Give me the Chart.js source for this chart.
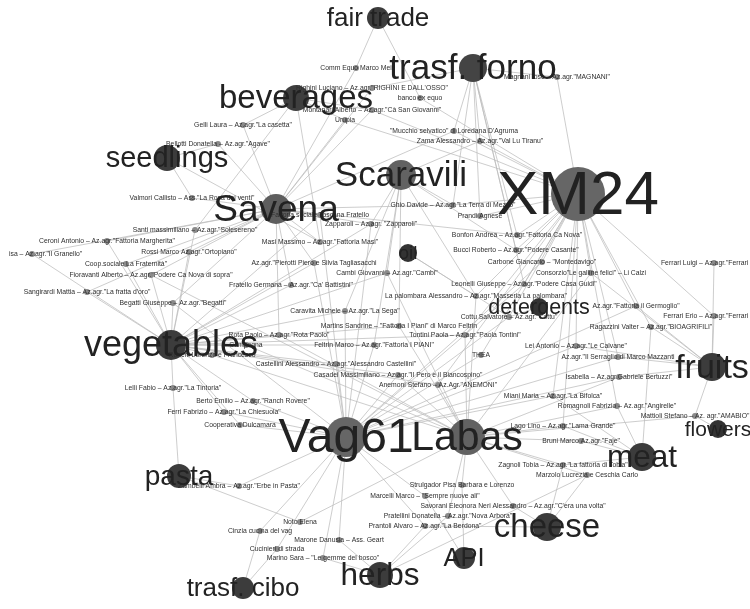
<!DOCTYPE html>
<html>
<head>
<meta charset="utf-8">
<script src="https://cdn.jsdelivr.net/npm/chart.js@4/dist/chart.umd.js"></script>
<style>
  html, body { margin: 0; padding: 0; background: #fff; overflow: hidden; }
  #chart { display: block; filter: blur(0.5px); }
</style>
</head>
<body>
<canvas id="chart" width="750" height="609"></canvas>
<script>
// hubs: shops and product groups
const hubCodes = ['X','V','L','S','C','veg','fru','che','mea','her','api','pas','cib','frn','bev','see','fai','oil','det','flo']
const hubNames = ['XM24','Vag61','Labas','Savena','Scaravili','vegetables','fruits','cheese','meat','herbs','API','pasta','trasf. cibo','trasf. forno','beverages','seedlings','fair trade','oil','detergents','flowers']
const hubX = [578,346,467,276,401,171,712,547,642,380,464,179,243,473,296,167,378,408,539,718]
const hubY = [194,437,437,209,175,345,367,527,457,575,558,476,588,68,98,158,18,253,307,429]
const hubRadius = [27,20,18,15,15,15,14,14,14,13,11,12,11,14,13,13,11,9,9,9]
const hubLabelSize = [62,48,41,37,35,36,34,33,31.5,31.5,25.5,28,26,35,33,29,26,19,21.5,21]
const hubColors = ['#666','#666','#626262','#5e5e5e','#626262','#3c3c3c','#3c3c3c','#3c3c3c','#3c3c3c','#3c3c3c','#3c3c3c','#3c3c3c','#3c3c3c','#444','#3e3e3e','#3c3c3c','#3c3c3c','#333','#333','#333']

// producers
const producerNames = [
  'Comm Equo Marco Mei','Righini Luciano – Az.agr."RIGHINI E DALL\'OSSO"','banco ex equo','Montanari Alberto – Az.agr."Cà San Giovanni"','Urupia',
  'Gelli Laura – Az.agr."La casetta"','Bellotti Donatella – Az.agr."Agave"','Valmori Callisto – Ass."La Rosa dei venti"','Zama Alessandro – Az.agr."Val Lu Tiranu"','"Mucchio selvatico" di Loredana D\'Agruma',
  'Magnani Iosè – Az.agr."MAGNANI"','Ghio Davide – Az.agr."La Terra di Mezzo"','Prandi Agnese','Bonfon Andrea – Az.agr."Fattoria Ca Nova"','Bucci Roberto – Az.agr."Podere Casante"',
  'Carbone Giancarlo – "Montedavigo"','Consorzio"Le galline felici" – Li Calzi','Leonelli Giuseppe – Az.agr."Podere Casa Guidi"','La palombara Alessandro – Az.agr."Masseria La palombara"','Az.agr."Fattoria il Germoglio"',
  'Cottu Salvatore – Az.agr."Cottu"','Ragazzini Valter – Az.agr."BIOAGRIFILI"','Ferrari Luigi – Az.agr."Ferrari Luigi"','Ferrari Erio – Az.agr."Ferrari Erio"','Lei Antonio – Az.agr."Le Calvane"',
  'Az.agr."Il Serraglio di Marco Mazzanti','Isabella – Az.agr.Gabriele Bertuzzi"','Miani Maria – Az.agr."La Bifolca"','Romagnoli Fabrizio – Az.agr."Angirelle"','Mattioli Stefano – Az. agr."AMABIO"',
  'Lago Lino – Az.agr."Lama Grande"','Bruni Marco Az.agr."Faje"','Zagnoli Tobia – Az.agr."La fattoria di Tobia"','Marzolo Lucrezia e Ceschia Carlo','Strulgador Pisa Barbara e Lorenzo',
  'Marcelli Marco – "Sempre nuove ali"','Savorani Eleonora Neri Alessandro – Az.agr."C\'era una volta"','Pratellini Donatella – Az.agr."Nova Arbora"','Prantoli Alvaro – Az.agr."La Berdona"','Marone Danusia – Ass. Geart',
  'Noto Elena','Cinzia cucina del vag','Cucinieri di strada','Marino Sara – "Le gemme del bosco"','Zambelli Ambra – Az.agr."Erbe in Pasta"',
  'Cooperativa Dulcamara','Ferri Fabrizio – Az.agr."La Chiesuola"','Berto Emilio – Az.agr."Ranch Rovere"','Lelli Fabio – Az.agr."La Tintoria"','Ronchi Lorenzo e Francesco',
  'Rota Paolo – Az.agr."Rota Paolo"','Campagna','Castellini Alessandro – Az.agr."Alessandro Castellini"','Casadei Massimiliano – Az.agr."Il Pero e il Biancospino"','Anemoni Stefano – Az.Agr."ANEMONI"',
  'THEA','Tontini Paola – Az.agr."Paola Tontini"','Feltrin Marco – Az.agr."Fattoria I PIANI"','Martins Sandrine – "Fattoria I Piani" di Marco Feltrin','Caravita Michele – Az.agr."La Sega"',
  'Fratello Germana – Az.agr."Ca\' Battistini"','Cambi Giovanni – Az.agr."Cambi"','Az.agr."Pierotti Piero e Silvia Tagliasacchi','Masi Massimo – Az.agr."Fattoria Masi"','Zapparoli – Az.agr. "Zapparoli"',
  'Fattoria sociale Toscana Fratello','Santi massimiliano – Az.agr."Solesereno"','Ceroni Antonio – Az.agr."Fattoria Margherita"','Rossi Marco Az.agr."Ortopiano"','isa – Az.agr."Il Granello"',
  'Coop.sociale La Fraternità"','Fioravanti Alberto – Az.agr."Podere Ca Nova di sopra"','Sangirardi Mattia – Az.agr."La fratta d\'oro"','Begatti Giuseppe – Az.agr."Begatti"'
]
const producerX = [
  356,372,420,372,345, 243,218,192,480,454,
  557,453,480,517,516, 542,591,524,476,636,
  509,651,714,714,576, 618,619,553,617,695,
  563,581,563,587,462, 425,513,448,425,339,
  300,260,277,323,239, 240,224,253,173,212,
  279,246,336,398,438, 481,465,374,399,345,
  291,387,314,320,371, 320,195,107,189,32,
  126,151,87,173
]
const producerY = [
  68,88,98,110,120, 125,144,198,141,131,
  77,205,216,235,250, 262,273,284,296,306,
  317,327,263,316,346, 357,377,396,406,416,
  426,441,465,475,485, 496,506,516,526,540,
  522,531,549,558,486, 425,412,401,388,355,
  335,345,364,375,385, 355,335,345,326,311,
  285,273,263,242,224, 215,230,241,252,254,
  264,275,292,303
]
const producerLinks = [
  'fai S','frn S','fai X','bev X S','bev X S',
  'bev S','see S','see S','frn C X','frn S X',
  'frn X','frn S X C','frn X','frn X S','frn X C',
  'X V','X L fru','frn X V','X oil C L','X fru V',
  'X det oil V','X fru mea','fru','X fru','X V fru',
  'X V fru','V fru L','mea X V','mea X L','fru flo L',
  'L mea X','L mea','L mea che','L her che','api L',
  'api V','che L','her L','che her V','her V',
  'pas L','cib V','cib V','her V','pas V',
  'veg V','veg V','veg V','veg pas','veg L',
  'veg L S','veg L','veg V','veg V L','veg L X',
  'X V','veg X L','veg V C','veg C L','veg C V',
  'veg S','veg C L','veg S V','see bev S','veg C S V',
  'veg S V','bev veg','S veg','S veg','S veg',
  'S veg','S veg L','S veg','S veg V'
]

const edgePoints = []
producerLinks.forEach((links, i) => {
  links.split(' ').forEach(code => {
    const h = hubCodes.indexOf(code)
    edgePoints.push({x: producerX[i], y: producerY[i]}, {x: hubX[h], y: hubY[h]}, {x: null, y: null})
  })
})

// text on top of the marks, centred on each node
const nodeLabels = {
  id: 'nodeLabels',
  afterDatasetsDraw(chart) {
    const {ctx, scales: {x, y}} = chart
    ctx.save()
    ctx.textAlign = 'center'
    ctx.textBaseline = 'middle'
    ctx.fillStyle = '#2e2e2e'
    ctx.font = '6.8px "Liberation Sans"'
    producerNames.forEach((name, i) => {
      const half = ctx.measureText(name).width / 2
      ctx.fillText(name, Math.max(x.getPixelForValue(producerX[i]), half + 9), y.getPixelForValue(producerY[i]))
    })
    ctx.fillStyle = '#222'
    hubNames.forEach((name, i) => {
      ctx.font = hubLabelSize[i] + 'px "Liberation Sans"'
      ctx.fillText(name, x.getPixelForValue(hubX[i]), y.getPixelForValue(hubY[i]) + hubLabelSize[i] * 0.04)
    })
    ctx.restore()
  }
}

new Chart(document.getElementById('chart'), {
  type: 'bubble',
  data: {
    datasets: [
      {
        type: 'line',
        data: edgePoints,
        borderColor: '#bcbcbc',
        borderWidth: 0.75,
        pointRadius: 0,
        spanGaps: false,
        order: 3
      },
      {
        data: producerX.map((v, i) => ({x: v, y: producerY[i], r: 3})),
        backgroundColor: '#8a8a8a',
        borderWidth: 0,
        order: 2
      },
      {
        data: hubX.map((v, i) => ({x: v, y: hubY[i], r: hubRadius[i]})),
        backgroundColor: hubColors,
        borderWidth: 0,
        order: 1
      }
    ]
  },
  options: {
    responsive: false,
    animation: false,
    events: [],
    layout: {padding: 0, autoPadding: false},
    plugins: {legend: {display: false}, tooltip: {enabled: false}},
    scales: {
      x: {type: 'linear', min: 0, max: 750, display: false},
      y: {type: 'linear', min: 0, max: 609, reverse: true, display: false}
    }
  },
  plugins: [nodeLabels]
})
</script>
</body>
</html>
